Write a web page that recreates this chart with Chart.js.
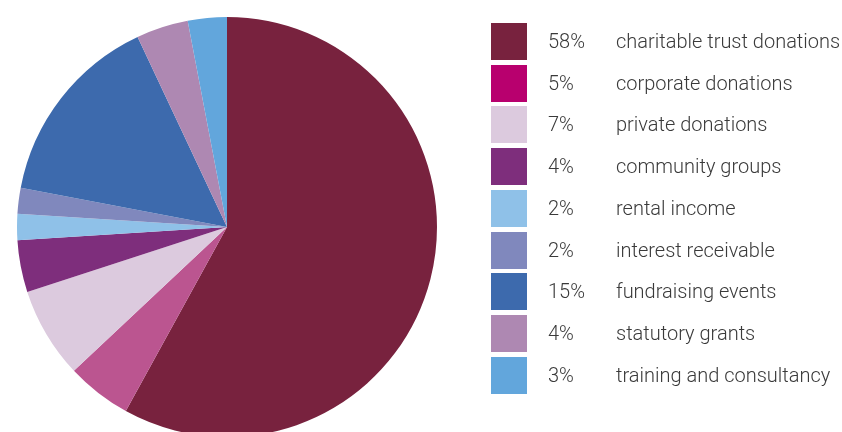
<!DOCTYPE html>
<html>
<head>
<meta charset="utf-8">
<script src="https://cdn.jsdelivr.net/npm/chart.js@4/dist/chart.umd.min.js"></script>
<style>
  html, body { margin: 0; padding: 0; background: #fff; overflow: hidden; }
  body { width: 842px; height: 432px; position: relative; }
  #pieBox { position: absolute; left: 0; top: 0; width: 454px; height: 454px; }
  #legend { position: absolute; left: 0; top: 0; width: 842px; height: 432px; pointer-events: none;
            font-family: Roboto, "Open Sans", sans-serif; font-weight: 300; font-size: 20px; color: #3a3a3a; }
  .row { position: absolute; left: 491px; height: 37px; }
  .swatch { position: absolute; left: 0; top: 0; width: 36px; height: 37px; }
  .pct { position: absolute; left: 57px; top: 0; line-height: 37px; white-space: nowrap; }
  .name { position: absolute; left: 125px; top: 0; line-height: 37px; white-space: nowrap; }
</style>
</head>
<body>
<div id="pieBox"><canvas id="pieChart"></canvas></div>
<div id="legend"></div>
<script>
// 收入來源
const categories = [
    'charitable trust donations',
    'corporate donations',
    'private donations',
    'community groups',
    'rental income',
    'interest receivable',
    'fundraising events',
    'statutory grants',
    'training and consultancy'
];
const shares = [58, 5, 7, 4, 2, 2, 15, 4, 3];
const sliceColors = ['#78223e', '#bb5590', '#dccade', '#7e2e7c', '#8fc1e8', '#8088bd', '#3d6aad', '#ae88b2', '#62a6dc'];
const legendColors = ['#78223e', '#b8006e', '#dccade', '#7e2e7c', '#8fc1e8', '#8088bd', '#3d6aad', '#ae88b2', '#62a6dc'];

document.addEventListener("DOMContentLoaded", () => {
    new Chart(document.getElementById('pieChart'), {
        type: 'pie',
        data: {
            labels: categories,
            datasets: [{
                data: shares,
                backgroundColor: sliceColors,
                borderWidth: 0
            }]
        },
        options: {
            responsive: true,
            maintainAspectRatio: false,
            animation: false,
            layout: { padding: 17 },
            plugins: {
                legend: { display: false },
                tooltip: { enabled: false }
            }
        }
    });

    // 右側圖例
    const legend = document.getElementById('legend');
    categories.forEach((name, i) => {
        const row = document.createElement('div');
        row.className = 'row';
        row.style.top = (23 + i * 41.7) + 'px';
        row.innerHTML =
            '<div class="swatch" style="background:' + legendColors[i] + '"></div>' +
            '<div class="pct">' + shares[i] + '%</div>' +
            '<div class="name">' + name + '</div>';
        legend.appendChild(row);
    });
});
</script>
</body>
</html>
